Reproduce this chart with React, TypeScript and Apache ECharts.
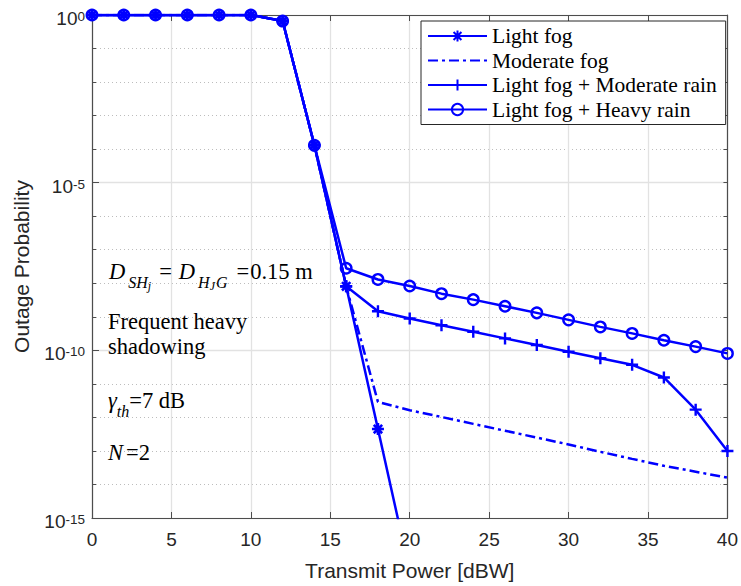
import React, { useEffect, useRef } from 'react';
import * as echarts from 'echarts';

// ---------------- data ----------------
const xValues = [0, 2, 4, 6, 8, 10, 12, 14, 16, 18, 20, 22, 24, 26, 28, 30, 32, 34, 36, 38, 40];

const seriesNames = [
  'Light fog',
  'Moderate fog',
  'Light fog + Moderate rain',
  'Light fog + Heavy rain',
];

const lightFog = [1, 1, 1, 1, 1, 1, 0.66, 1.3e-4, 8.1e-9, 4.5e-13, 2.5e-17];

const moderateFog = [
  1, 1, 1, 1, 1, 1, 0.66, 1.3e-4, 8.1e-9, 2.9e-12, 1.63e-12, 1.03e-12, 6.4e-13, 4.0e-13,
  2.5e-13, 1.56e-13, 9.4e-14, 5.8e-14, 3.6e-14, 2.4e-14, 1.6e-14,
];

const fogModerateRain = [
  1, 1, 1, 1, 1, 1, 0.66, 1.3e-4, 8.1e-9, 1.46e-9, 8.9e-10, 5.6e-10, 3.6e-10, 2.27e-10,
  1.44e-10, 9.1e-11, 5.8e-11, 3.7e-11, 1.55e-11, 1.7e-12, 1.0e-13,
];

const fogHeavyRain = [
  1, 1, 1, 1, 1, 1, 0.66, 1.3e-4, 2.8e-8, 1.3e-8, 8.3e-9, 4.9e-9, 3.25e-9, 2.06e-9,
  1.31e-9, 8.1e-10, 5.0e-10, 3.2e-10, 2.0e-10, 1.29e-10, 8.1e-11,
];

const xAxisTitle = 'Transmit Power [dBW]';
const yAxisTitle = 'Outage Probability';

// ---------------- styles ----------------
const BLUE = '#0000ff';
const AXIS = '#4d4d4d';
const TXT = '#262626';
const SANS = 'Liberation Sans, Arial, Helvetica, sans-serif';
const SERIF = 'Liberation Serif, Times New Roman, serif';
const ANN = 22.5;

const ASTERISK = 'path://M0,-10L0,10M-10,0L10,0M-7,-7L7,7M-7,7L7,-7';
const PLUS = 'path://M0,-10L0,10M-10,0L10,0';

const pairs = (ys: number[]) => ys.map((y, i) => [xValues[i], y]);

const mathRich = {
  i: { fontFamily: SERIF, fontSize: ANN, fontStyle: 'italic', lineHeight: ANN },
  D: { fontFamily: SERIF, fontSize: ANN, fontStyle: 'italic', lineHeight: ANN, padding: [0, 3, 0, 1] },
  N: { fontFamily: SERIF, fontSize: ANN, fontStyle: 'italic', lineHeight: ANN, padding: [0, 3, 0, 0] },
  eq: { fontFamily: SERIF, fontSize: ANN, lineHeight: ANN, padding: [0, 6, 0, 7] },
  eq2: { fontFamily: SERIF, fontSize: ANN, lineHeight: ANN, padding: [0, 1, 0, 9] },
  s: {
    fontFamily: SERIF,
    fontSize: 16,
    fontStyle: 'italic',
    lineHeight: 16,
    verticalAlign: 'top',
    padding: [15, 0, 0, 0],
  },
  ss: {
    fontFamily: SERIF,
    fontSize: 12,
    fontStyle: 'italic',
    lineHeight: 12,
    verticalAlign: 'top',
    padding: [20, 1, 0, 0],
  },
  n: { fontFamily: SERIF, fontSize: ANN, lineHeight: ANN },
};

export default function App() {
  const ref = useRef<HTMLDivElement>(null);

  useEffect(() => {
    if (!ref.current) return;
    const chart = echarts.init(ref.current, null, { renderer: 'svg' });

    const logAxisBase = {
      type: 'log' as const,
      logBase: 10,
      min: 1e-15,
      max: 1,
      gridIndex: 0,
    };

    const option: any = {
      animation: false,
      backgroundColor: '#ffffff',
      grid: { left: 92, right: 9, top: 15, bottom: 65, containLabel: false },
      legend: {
        orient: 'vertical',
        left: 421,
        top: 21,
        padding: [4, 9, 4, 6],
        itemWidth: 59,
        itemHeight: 14,
        itemGap: 2.5,
        backgroundColor: '#ffffff',
        borderColor: '#262626',
        borderWidth: 1,
        borderRadius: 0,
        textStyle: { fontFamily: SERIF, fontSize: 21.5, color: '#000' },
        data: [
          { name: seriesNames[0] },
          { name: seriesNames[1], itemStyle: { color: 'rgba(0,0,0,0)', borderWidth: 0, opacity: 0 } },
          { name: seriesNames[2] },
          { name: seriesNames[3] },
        ],
      },
      xAxis: [
        {
          type: 'value',
          min: 0,
          max: 40,
          interval: 5,
          position: 'bottom',
          axisLine: { show: true, onZero: false, lineStyle: { color: AXIS, width: 1.2 } },
          axisTick: { show: true, inside: true, length: 6, lineStyle: { color: AXIS } },
          axisLabel: { margin: 12, fontSize: 19, fontFamily: SANS, color: TXT },
          splitLine: { show: true, lineStyle: { color: '#e2e2e2', width: 1.3 } },
          name: xAxisTitle,
          nameLocation: 'middle',
          nameGap: 42,
          nameTextStyle: { fontSize: 21, fontFamily: SANS, color: TXT },
        },
        {
          type: 'value',
          min: 0,
          max: 40,
          interval: 5,
          position: 'top',
          axisLine: { show: true, onZero: false, lineStyle: { color: AXIS, width: 1.2 } },
          axisTick: { show: true, inside: true, length: 6, lineStyle: { color: AXIS } },
          axisLabel: { show: false },
          splitLine: { show: false },
        },
      ],
      yAxis: [
        {
          ...logAxisBase,
          interval: 1,
          position: 'left',
          axisLine: { show: true, onZero: false, lineStyle: { color: AXIS, width: 1.2 } },
          axisTick: { show: true, inside: true, length: 4, lineStyle: { color: AXIS } },
          axisLabel: { show: false },
          splitLine: { show: true, lineStyle: { color: '#bdbdbd', type: [1, 3], width: 1 } },
          name: yAxisTitle,
          nameLocation: 'middle',
          nameGap: 60,
          nameTextStyle: { fontSize: 21, fontFamily: SANS, color: TXT },
        },
        {
          ...logAxisBase,
          interval: 5,
          position: 'left',
          axisLine: { show: false },
          axisTick: { show: true, inside: true, length: 7, lineStyle: { color: AXIS } },
          axisLabel: {
            show: true,
            margin: 7,
            formatter: (v: number) => {
              const e = Math.round(Math.log10(v));
              return `{b|10}{s|${e}}`;
            },
            rich: {
              b: { fontSize: 19, fontFamily: SANS, color: TXT, lineHeight: 19, padding: [7, 0, 0, 0] },
              s: {
                fontSize: 13.5,
                fontFamily: SANS,
                color: TXT,
                lineHeight: 13,
                verticalAlign: 'top',
                padding: [4, 0, 0, 0],
              },
            },
          },
          splitLine: { show: true, lineStyle: { color: '#e2e2e2', width: 1.3, type: 'solid' } },
        },
        {
          ...logAxisBase,
          interval: 1,
          position: 'right',
          axisLine: { show: true, onZero: false, lineStyle: { color: AXIS, width: 1.2 } },
          axisTick: { show: true, inside: true, length: 4, lineStyle: { color: AXIS } },
          axisLabel: { show: false },
          splitLine: { show: false },
        },
      ],
      series: [
        {
          name: seriesNames[0],
          type: 'line',
          xAxisIndex: 0,
          yAxisIndex: 0,
          data: pairs(lightFog),
          color: BLUE,
          symbol: ASTERISK,
          symbolSize: 12,
          showAllSymbol: true,
          itemStyle: { color: BLUE, borderColor: BLUE, borderWidth: 2.6 },
          lineStyle: { color: BLUE, width: 2.5 },
          clip: true,
          z: 3,
        },
        {
          name: seriesNames[1],
          type: 'line',
          xAxisIndex: 0,
          yAxisIndex: 0,
          data: pairs(moderateFog),
          color: BLUE,
          symbol: 'none',
          itemStyle: { color: BLUE },
          lineStyle: { color: BLUE, width: 2.5, type: [10, 4, 3, 4] },
          clip: true,
          z: 3,
        },
        {
          name: seriesNames[2],
          type: 'line',
          xAxisIndex: 0,
          yAxisIndex: 0,
          data: pairs(fogModerateRain),
          color: BLUE,
          symbol: PLUS,
          symbolSize: 12,
          showAllSymbol: true,
          itemStyle: { color: BLUE, borderColor: BLUE, borderWidth: 2.4 },
          lineStyle: { color: BLUE, width: 2.5 },
          clip: true,
          z: 3,
        },
        {
          name: seriesNames[3],
          type: 'line',
          xAxisIndex: 0,
          yAxisIndex: 0,
          data: pairs(fogHeavyRain),
          color: BLUE,
          symbol: 'circle',
          symbolSize: 10.5,
          showAllSymbol: true,
          itemStyle: { color: 'rgba(255,255,255,0)', borderColor: BLUE, borderWidth: 2.4 },
          lineStyle: { color: BLUE, width: 2.5 },
          clip: true,
          z: 3,
        },
      ],
      graphic: [
        {
          type: 'text',
          x: 108,
          y: 271,
          z: 10,
          style: {
            text: '{D|D}{s|SH}{ss|j}{eq|=}{D|D}{s|H}{ss|J}{s|G}{eq2|=}{n|0.15 m}',
            fontFamily: SERIF,
            fontSize: ANN,
            fill: '#000',
            verticalAlign: 'middle',
            rich: mathRich,
          },
        },
        {
          type: 'text',
          x: 108,
          y: 334,
          z: 10,
          style: {
            text: 'Frequent heavy\nshadowing',
            fontFamily: SERIF,
            fontSize: ANN,
            lineHeight: 25,
            fill: '#000',
            verticalAlign: 'middle',
          },
        },
        {
          type: 'text',
          x: 108,
          y: 400,
          z: 10,
          style: {
            text: '{i|γ}{s|th}{n|=7 dB}',
            fontFamily: SERIF,
            fontSize: ANN,
            fill: '#000',
            verticalAlign: 'middle',
            rich: mathRich,
          },
        },
        {
          type: 'text',
          x: 108,
          y: 452,
          z: 10,
          style: {
            text: '{N|N}{n|=2}',
            fontFamily: SERIF,
            fontSize: ANN,
            fill: '#000',
            verticalAlign: 'middle',
            rich: mathRich,
          },
        },
      ],
    };

    chart.setOption(option);
    return () => chart.dispose();
  }, []);

  return (
    <div
      ref={ref}
      style={{ position: 'absolute', left: 0, top: 0, width: 741, height: 586, background: '#fff' }}
    />
  );
}
